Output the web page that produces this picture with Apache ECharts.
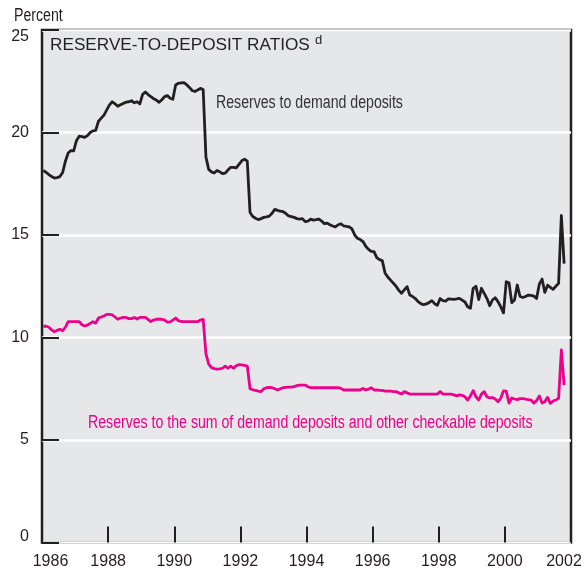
<!DOCTYPE html>
<html><head><meta charset="utf-8">
<script src="https://cdn.jsdelivr.net/npm/echarts@6/dist/echarts.min.js"></script>
<style>html,body{margin:0;padding:0;background:#fff}#c{width:587px;height:571px}</style>
</head><body><div id="c"></div><script>
// Monthly data, January 1986 onward (values in percent)
const startYear = 1986;
const demandRatio = [
  18.15, 18.05, 17.95, 17.85, 17.78, 17.8, 17.85, 18.05, 18.6, 19.0, 19.12, 19.1,   // 1986
  19.6, 19.82, 19.8, 19.76, 19.85, 20.0, 20.08, 20.1, 20.55, 20.7, 20.85, 21.1,     // 1987
  21.35, 21.5, 21.4, 21.28, 21.35, 21.42, 21.48, 21.5, 21.55, 21.45, 21.5, 21.4,    // 1988
  21.85, 21.98, 21.85, 21.75, 21.65, 21.58, 21.47, 21.6, 21.75, 21.8, 21.67, 21.62, // 1989
  22.32, 22.4, 22.42, 22.43, 22.33, 22.2, 22.05, 22.0, 22.07, 22.15, 22.1, 18.8,    // 1990
  18.2, 18.08, 18.02, 18.15, 18.08, 18.0, 18.02, 18.17, 18.3, 18.3, 18.28, 18.45,   // 1991
  18.62, 18.7, 18.6, 16.1, 15.9, 15.82, 15.75, 15.8, 15.86, 15.88, 15.92, 16.06,    // 1992
  16.25, 16.2, 16.16, 16.14, 16.05, 15.93, 15.9, 15.86, 15.8, 15.78, 15.8, 15.65,   // 1993
  15.68, 15.77, 15.73, 15.75, 15.78, 15.68, 15.55, 15.58, 15.5, 15.44, 15.4, 15.5,  // 1994
  15.55, 15.44, 15.42, 15.4, 15.3, 15.0, 14.84, 14.78, 14.68, 14.45, 14.3, 14.2,    // 1995
  14.19, 13.9, 13.8, 13.75, 13.15, 12.95, 12.8, 12.65, 12.5, 12.3, 12.16, 12.32,    // 1996
  12.48, 12.07, 12.0, 11.9, 11.75, 11.65, 11.6, 11.64, 11.7, 11.8, 11.65, 11.57,    // 1997
  11.9, 11.8, 11.78, 11.88, 11.87, 11.86, 11.88, 11.91, 11.82, 11.73, 11.5, 11.42,  // 1998
  12.4, 12.5, 11.85, 12.4, 12.15, 11.9, 11.55, 11.83, 11.94, 11.75, 11.5, 11.2,     // 1999
  12.72, 12.67, 11.7, 11.83, 12.56, 12.0, 11.95, 12.0, 12.07, 12.05, 12.02, 11.9,   // 2000
  12.6, 12.85, 12.2, 12.55, 12.45, 12.35, 12.5, 12.64, 15.95, 13.6                  // 2001
];
const totalRatio = [
  10.55, 10.55, 10.5, 10.37, 10.28, 10.35, 10.4, 10.33, 10.5, 10.77, 10.77, 10.77,  // 1986
  10.77, 10.77, 10.62, 10.56, 10.6, 10.69, 10.77, 10.7, 10.95, 11.0, 11.05, 11.13,  // 1987
  11.13, 11.1, 11.0, 10.89, 10.95, 10.98, 10.98, 10.92, 10.92, 10.98, 10.9, 10.98,  // 1988
  10.98, 10.98, 10.88, 10.78, 10.85, 10.89, 10.89, 10.89, 10.85, 10.75, 10.76, 10.85, // 1989
  10.95, 10.82, 10.78, 10.77, 10.77, 10.77, 10.77, 10.77, 10.77, 10.85, 10.88, 9.2, // 1990
  8.7, 8.53, 8.48, 8.46, 8.47, 8.5, 8.6, 8.5, 8.6, 8.5, 8.62, 8.68,                 // 1991
  8.66, 8.64, 8.61, 7.5, 7.45, 7.42, 7.38, 7.36, 7.5, 7.55, 7.57, 7.55,             // 1992
  7.5, 7.44, 7.5, 7.55, 7.57, 7.58, 7.58, 7.6, 7.65, 7.68, 7.68, 7.68,              // 1993
  7.6, 7.55, 7.55, 7.55, 7.55, 7.55, 7.55, 7.55, 7.55, 7.55, 7.55, 7.55,            // 1994
  7.52, 7.44, 7.44, 7.44, 7.44, 7.44, 7.44, 7.44, 7.52, 7.44, 7.48, 7.55,           // 1995
  7.44, 7.44, 7.42, 7.42, 7.38, 7.38, 7.38, 7.36, 7.36, 7.3, 7.24, 7.36,            // 1996
  7.3, 7.24, 7.24, 7.24, 7.24, 7.24, 7.24, 7.24, 7.24, 7.24, 7.24, 7.24,            // 1997
  7.36, 7.24, 7.24, 7.24, 7.24, 7.2, 7.15, 7.2, 7.18, 7.11, 6.95, 7.15,             // 1998
  7.41, 7.11, 6.95, 7.24, 7.36, 7.11, 7.05, 7.07, 7.0, 6.87, 7.03, 7.4,             // 1999
  7.38, 6.8, 7.05, 7.0, 6.97, 7.02, 7.02, 6.99, 6.97, 6.95, 6.8, 6.92,              // 2000
  7.15, 6.8, 6.87, 7.08, 6.79, 6.9, 6.95, 7.03, 9.39, 7.68                          // 2001
];
const xRange = [1986, 2002];
const yRange = [0, 25];
const unitLabel = 'Percent';
const demandLabel = 'Reserves to demand deposits';
const totalLabel = 'Reserves to the sum of demand deposits and other checkable deposits';
const chartTitle = 'RESERVE-TO-DEPOSIT RATIOS';
const titleNote = 'd';

const toPairs = arr => arr.map((v, i) => [startYear + (i + 0.5) / 12, v]);
const DARK = '#231f20', PINK = '#ec008c';
const SANS = '"Liberation Sans", Arial, Helvetica, sans-serif';
const NARROW_SCALE = 0.785;

const chart = echarts.init(document.getElementById('c'), null, {renderer: 'canvas'});
chart.setOption({
  animation: false,
  backgroundColor: '#ffffff',
  grid: {
    left: 42, right: 16, top: 30, bottom: 28.5,
    show: true, backgroundColor: '#e6e7e8', borderColor: DARK, borderWidth: 2.5
  },
  xAxis: {
    type: 'value', min: xRange[0], max: xRange[1], interval: 2,
    axisLine: {show: false},
    axisTick: {show: true, inside: true, length: 16, lineStyle: {color: DARK, width: 2}},
    splitLine: {show: false},
    axisLabel: {
      margin: 11, color: DARK, fontFamily: SANS, fontSize: 16,
      formatter: v => v === xRange[0] ? '{l|' + v + '}' : (v === xRange[1] ? '{r|' + v + '}' : String(v)),
      rich: {
        l: {fontFamily: SANS, fontSize: 16, color: DARK, padding: [0, 0, 0, 17]},
        r: {fontFamily: SANS, fontSize: 16, color: DARK, padding: [0, 14, 0, 0]}
      }
    }
  },
  yAxis: {
    type: 'value', min: yRange[0], max: yRange[1], interval: 5,
    axisLine: {show: false},
    axisTick: {show: true, inside: true, length: 17, lineStyle: {color: DARK, width: 2}},
    splitLine: {show: true, lineStyle: {color: '#ffffff', width: 2.5}},
    axisLabel: {
      margin: 13, color: DARK, fontFamily: SANS, fontSize: 16,
      formatter: v => v === yRange[0] ? '{b|' + v + '}' : (v === yRange[1] ? '{t|' + v + '}' : String(v)),
      rich: {
        b: {fontFamily: SANS, fontSize: 16, color: DARK, padding: [0, 0, 11, 0]},
        t: {fontFamily: SANS, fontSize: 16, color: DARK, padding: [13, 0, 0, 0]}
      }
    }
  },
  graphic: [
    {type: 'text', x: 14, y: 16, scaleX: NARROW_SCALE, z: 10,
     style: {text: unitLabel, fill: DARK, font: '18px ' + SANS, verticalAlign: 'middle', align: 'left'}},
    {type: 'text', x: 50, y: 45, z: 10,
     style: {text: chartTitle, fill: DARK, font: '17.2px ' + SANS, verticalAlign: 'middle', align: 'left'}},
    {type: 'text', x: 315, y: 40, z: 10,
     style: {text: titleNote, fill: DARK, font: '13px ' + SANS, verticalAlign: 'middle', align: 'left'}},
    {type: 'text', x: 216, y: 103, scaleX: NARROW_SCALE, z: 10,
     style: {text: demandLabel, fill: '#333333', font: '18px ' + SANS, verticalAlign: 'middle', align: 'left'}},
    {type: 'text', x: 88, y: 423, scaleX: NARROW_SCALE, z: 10,
     style: {text: totalLabel, fill: PINK, font: '18px ' + SANS, verticalAlign: 'middle', align: 'left'}}
  ],
  series: [
    {type: 'line', name: demandLabel, data: toPairs(demandRatio), showSymbol: false, symbol: 'none',
     lineStyle: {color: DARK, width: 2.8, join: 'round'}, z: 3},
    {type: 'line', name: totalLabel, data: toPairs(totalRatio), showSymbol: false, symbol: 'none',
     lineStyle: {color: PINK, width: 2.8, join: 'round'}, z: 3}
  ]
});
</script></body></html>
